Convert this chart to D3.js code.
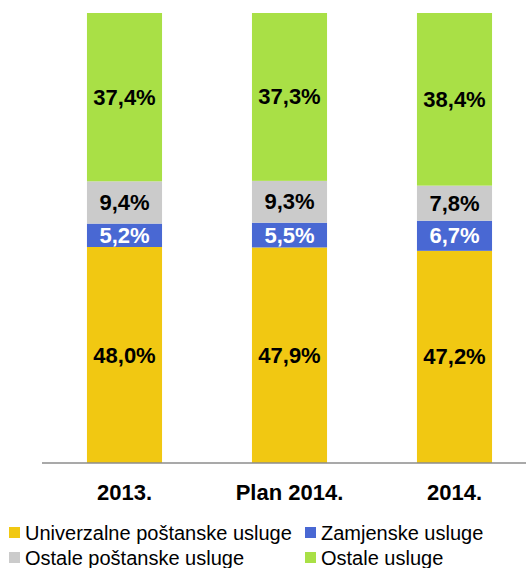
<!DOCTYPE html>
<html>
<head>
<meta charset="utf-8">
<script src="https://cdn.jsdelivr.net/npm/d3@7/dist/d3.min.js"></script>
<style>
  html, body { margin: 0; padding: 0; background: #fff; }
  svg { display: block; font-family: "Liberation Sans", Arial, sans-serif; }
</style>
</head>
<body>
<script>
const categories = ["2013.", "Plan 2014.", "2014."];
const seriesNames = ["Univerzalne poštanske usluge", "Zamjenske usluge", "Ostale poštanske usluge", "Ostale usluge"];
const seriesColors = ["#F1C812", "#4968D3", "#CBCBCB", "#A9E046"];
const labelColors = ["#000", "#fff", "#000", "#000"];
const univerzalne = [48.0, 47.9, 47.2];
const zamjenske = [5.2, 5.5, 6.7];
const ostalePostanske = [9.4, 9.3, 7.8];
const ostaleUsluge = [37.4, 37.3, 38.4];

const W = 526, H = 568;
const svg = d3.select("body").append("svg").attr("width", W).attr("height", H);

const seriesValues = [univerzalne, zamjenske, ostalePostanske, ostaleUsluge];
const keys = ["s0", "s1", "s2", "s3"];
const table = categories.map((c, i) => {
  const row = { cat: c };
  keys.forEach((k, j) => row[k] = seriesValues[j][i]);
  return row;
});
const stack = d3.stack().keys(keys).offset(d3.stackOffsetExpand);
const stacked = stack(table);

const x = d3.scaleBand().domain(categories).range([42, 537]).paddingInner(0.545).paddingOuter(0.2725);
const y = d3.scaleLinear().domain([0, 1]).range([463, 13]);

const fmt = v => v.toFixed(1).replace(".", ",") + "%";

stacked.forEach((layer, j) => {
  const g = svg.append("g");
  g.selectAll("rect").data(layer).enter().append("rect")
    .attr("x", d => x(d.data.cat))
    .attr("width", x.bandwidth())
    .attr("y", d => y(d[1]))
    .attr("height", d => y(d[0]) - y(d[1]))
    .attr("fill", seriesColors[j]);
  g.selectAll("text").data(layer).enter().append("text")
    .attr("x", d => x(d.data.cat) + x.bandwidth() / 2)
    .attr("y", d => (y(d[0]) + y(d[1])) / 2)
    .attr("text-anchor", "middle")
    .attr("dominant-baseline", "central")
    .attr("font-size", 22)
    .attr("font-weight", "bold")
    .attr("fill", labelColors[j])
    .text((d, i) => fmt(seriesValues[j][i]));
});

// axis
const xAxis = d3.axisBottom(x).tickSize(0).tickPadding(0);
const ax = svg.append("g").attr("transform", "translate(0,463)").call(xAxis);
ax.select(".domain").attr("d", "M42,0H526").attr("stroke", "#8C8C8C").attr("stroke-width", 1.5);
ax.selectAll(".tick text")
  .attr("font-size", 22).attr("font-weight", "bold").attr("fill", "#000")
  .attr("font-family", "Liberation Sans, Arial, sans-serif")
  .attr("dy", null).attr("y", 29).attr("dominant-baseline", "central");

// legend
const legendPos = [[9, 533], [305, 533], [9, 558], [305, 558]];
seriesNames.forEach((name, j) => {
  const [lx, ly] = legendPos[j];
  svg.append("rect").attr("x", lx).attr("y", ly - 6).attr("width", 11).attr("height", 11).attr("fill", seriesColors[j]);
  svg.append("text").attr("x", lx + 16).attr("y", ly).attr("dominant-baseline", "central")
    .attr("font-size", 20).attr("fill", "#000").text(name);
});
</script>
</body>
</html>
